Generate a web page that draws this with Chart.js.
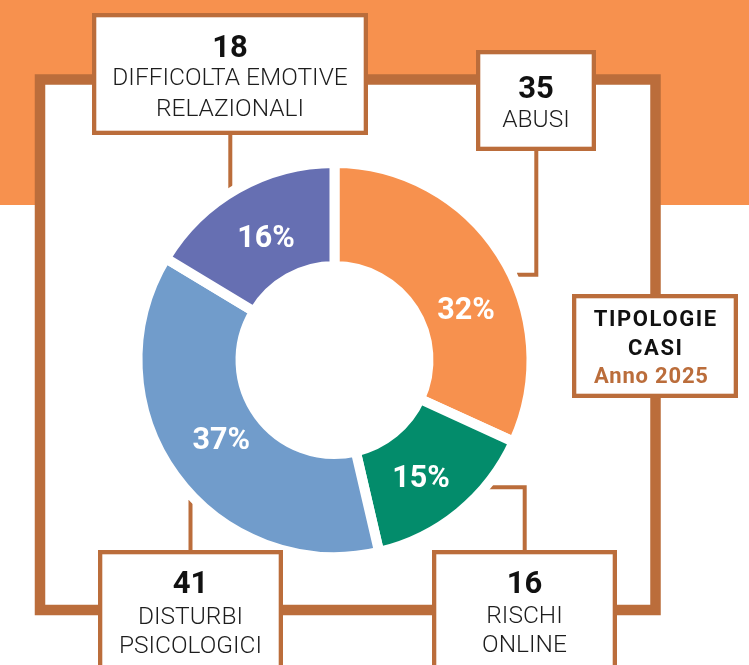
<!DOCTYPE html>
<html><head><meta charset="utf-8">
<script src="https://cdn.jsdelivr.net/npm/chart.js@4/dist/chart.umd.min.js"></script>
<style>html,body{margin:0;padding:0;background:#fff;}canvas{display:block;}</style>
</head><body>
<canvas id="c" width="749" height="665"></canvas>
<script>
// ---- data ----
const categories = ['ABUSI', 'RISCHI ONLINE', 'DISTURBI PSICOLOGICI', 'DIFFICOLTA EMOTIVE RELAZIONALI'];
const counts = [35, 16, 41, 18];
const categoryLines = [['ABUSI'], ['RISCHI', 'ONLINE'], ['DISTURBI', 'PSICOLOGICI'], ['DIFFICOLTA EMOTIVE', 'RELAZIONALI']];
const titleLines = ['TIPOLOGIE', 'CASI'];
const subtitle = 'Anno 2025';

// ---- styles ----
const ORANGE = '#F7914E';
const BROWN = '#BB6D3B';
const sliceColors = ['#F7914E', '#038C6B', '#719CCB', '#666FB2'];
const FONT = 'Roboto, "Open Sans", sans-serif';

const total = counts.reduce((a, b) => a + b, 0);

function text(ctx, s, x, y, font, color, spacing) {
  ctx.font = font;
  ctx.fillStyle = color;
  ctx.letterSpacing = (spacing || 0) + 'px';
  const w = ctx.measureText(s).width;
  ctx.textAlign = 'left';
  ctx.textBaseline = 'alphabetic';
  ctx.fillText(s, x - (w - (spacing || 0)) / 2, y);
  ctx.letterSpacing = '0px';
}

const decor = {
  id: 'decor',
  beforeDraw(chart, args, o) {
    const ctx = chart.ctx;
    ctx.save();
    ctx.fillStyle = '#fff'; ctx.fillRect(0, 0, chart.width, chart.height);
    ctx.fillStyle = ORANGE; ctx.fillRect(0, 0, chart.width, o.bandBottom);
    const f = o.frame;
    ctx.fillStyle = '#fff'; ctx.fillRect(f.x, f.y, f.w, f.h);
    ctx.strokeStyle = BROWN; ctx.lineWidth = f.lw; ctx.lineJoin = 'miter';
    ctx.strokeRect(f.x, f.y, f.w, f.h);
    ctx.lineWidth = 4; ctx.lineCap = 'butt';
    for (const pts of o.leaders) {
      ctx.beginPath();
      pts.forEach((p, i) => i ? ctx.lineTo(p[0], p[1]) : ctx.moveTo(p[0], p[1]));
      ctx.stroke();
    }
    ctx.restore();
  },
  afterDatasetsDraw(chart, args, o) {
    const ctx = chart.ctx;
    ctx.save();
    const meta = chart.getDatasetMeta(0);
    meta.data.forEach((arc, i) => {
      const p = arc.getProps(['x', 'y', 'startAngle', 'endAngle', 'innerRadius', 'outerRadius'], true);
      const a = (p.startAngle + p.endAngle) / 2 + (o.angleShift[i] || 0) * Math.PI / 180;
      const r = (p.innerRadius + p.outerRadius) / 2 - 4 + (o.radiusShift[i] || 0);
      const x = p.x + Math.cos(a) * r, y = p.y + Math.sin(a) * r;
      const pct = Math.round(counts[i] / total * 100) + '%';
      text(ctx, pct, x, y + 11, 'bold 30.5px ' + FONT, '#fff', 0);
    });
    ctx.restore();
  },
  afterDraw(chart, args, o) {
    const ctx = chart.ctx;
    ctx.save();
    const drawBox = (b) => {
      ctx.fillStyle = '#fff';
      ctx.fillRect(b.x, b.y, b.w, b.h);
      ctx.strokeStyle = BROWN; ctx.lineWidth = 4.3;
      ctx.strokeRect(b.x + 2.15, b.y + 2.15, b.w - 4.3, b.h - 4.3);
    };
    o.boxes.forEach((b, i) => {
      drawBox(b);
      const cx = b.x + b.w / 2;
      text(ctx, String(counts[i]), cx, b.base[0], 'bold 31px ' + FONT, '#111', 0);
      categoryLines[i].forEach((ln, k) => {
        text(ctx, ln, cx, b.base[k + 1], '300 24.5px ' + FONT, '#1d1d1d', 0);
      });
    });
    const t = o.titleBox;
    drawBox(t);
    const tcx = t.x + t.w / 2;
    titleLines.forEach((ln, k) => text(ctx, ln, tcx, t.base[k], 'bold 22px ' + FONT, '#111', 1.6));
    text(ctx, subtitle, tcx - 4, t.base[2], 'bold 22px ' + FONT, BROWN, 0.8);
    ctx.restore();
  }
};

new Chart(document.getElementById('c'), {
  type: 'doughnut',
  data: {
    labels: categories,
    datasets: [{
      data: counts,
      backgroundColor: sliceColors,
      borderColor: '#fff',
      borderWidth: 10,
      hoverBorderWidth: 10,
      borderJoinStyle: 'miter',
      hoverOffset: 0
    }]
  },
  options: {
    responsive: false,
    animation: false,
    devicePixelRatio: 1,
    radius: 197,
    cutout: '47.7%',
    rotation: 0,
    layout: { padding: { left: 101, right: 181, top: 130, bottom: 75 } },
    events: [],
    plugins: {
      legend: { display: false },
      tooltip: { enabled: false },
      decor: {
        bandBottom: 205,
        frame: { x: 40, y: 79.5, w: 615.5, h: 530.5, lw: 10.5 },
        leaders: [
          [[230.3, 134], [230.3, 190]],
          [[536.3, 150], [536.3, 274.7], [517, 274.7]],
          [[524.7, 551], [524.7, 487.3], [481.7, 487.3]],
          [[190.5, 500], [190.5, 551]]
        ],
        angleShift: [11, 2.5, 1.5, 0.5],
        radiusShift: [0, 3, -4, 0],
        boxes: [
          { x: 476, y: 50, w: 120, h: 101, base: [98, 127] },
          { x: 432, y: 550, w: 185, h: 160, base: [593, 623, 652] },
          { x: 98, y: 550, w: 185, h: 160, base: [593, 623.5, 653] },
          { x: 92, y: 13, w: 276, h: 122, base: [56.7, 85, 115.5] }
        ],
        titleBox: { x: 572, y: 294, w: 166, h: 104, base: [326, 355, 383] }
      }
    }
  },
  plugins: [decor]
});
</script>
</body></html>
